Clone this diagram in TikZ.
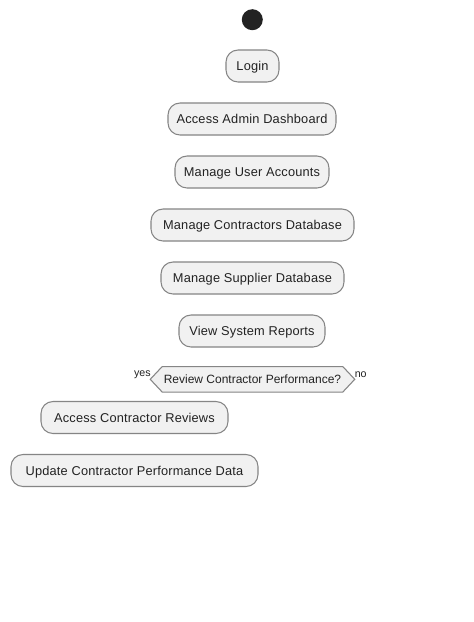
\documentclass[tikz,border=0pt]{standalone}
\usepackage{fontspec}
\setmainfont{Liberation Sans}[LetterSpace=1.5]
\newfontfamily\plainsans{Liberation Sans}
\definecolor{boxfill}{HTML}{F1F1F1}
\definecolor{boxline}{HTML}{858585}
\definecolor{startcol}{HTML}{222222}
\definecolor{txt}{HTML}{222222}
\tikzset{
  act/.style={draw=boxline, fill=boxfill, line width=0.8pt, rounded corners=9pt,
    minimum height=24pt, inner sep=0pt, text height=6.9pt, text depth=0pt,
    text=txt, font=\fontsize{9.6}{11}\selectfont},
  dectext/.style={inner sep=0pt, text height=6.5pt, text depth=0pt, text=txt, font=\plainsans\fontsize{9}{10}\selectfont},
  branch/.style={inner sep=0pt, text=txt, font=\plainsans\fontsize{8}{9}\selectfont},
}
\begin{document}
\begin{tikzpicture}[x=0.75pt,y=-0.75pt]
\useasboundingbox (0,0) rectangle (474,622);
\fill[white] (0,0) rectangle (474,622);
\node[circle, fill=startcol, minimum size=15.75pt, inner sep=0pt] (start) at (252.3,19.7) {};
\node[act, minimum width=39.75pt] (login) at (252.5,66) {Login};
\node[act, minimum width=126pt] (dash) at (252,119) {Access Admin Dashboard};
\node[act, minimum width=115.5pt] (users) at (252,172) {Manage User Accounts};
\node[act, minimum width=152.25pt] (contr) at (252.5,225) {Manage Contractors Database};
\node[act, minimum width=137.25pt] (supp) at (252.5,278) {Manage Supplier Database};
\node[act, minimum width=109.5pt] (rep) at (252,331) {View System Reports};
\coordinate (dc) at (252.5,379.3);
\path (dc) node[dectext, minimum width=135pt, minimum height=18.75pt] (decbox) {};
\draw[draw=boxline, fill=boxfill, line width=0.8pt]
  ([xshift=-9pt]decbox.west) -- (decbox.north west) -- (decbox.north east) -- ([xshift=9pt]decbox.east)
  -- (decbox.south east) -- (decbox.south west) -- cycle;
\node[dectext] (dec) at (dc) {Review Contractor Performance?};
\node[branch, anchor=east] (yes) at (151,374.5) {yes};
\node[branch, anchor=west] (no) at (354.5,374.5) {no};
\node[act, minimum width=140.25pt] (rev) at (134.5,417.5) {Access Contractor Reviews};
\node[act, minimum width=185.25pt] (upd) at (134.5,470.5) {Update Contractor Performance Data};
\end{tikzpicture}
\end{document}
